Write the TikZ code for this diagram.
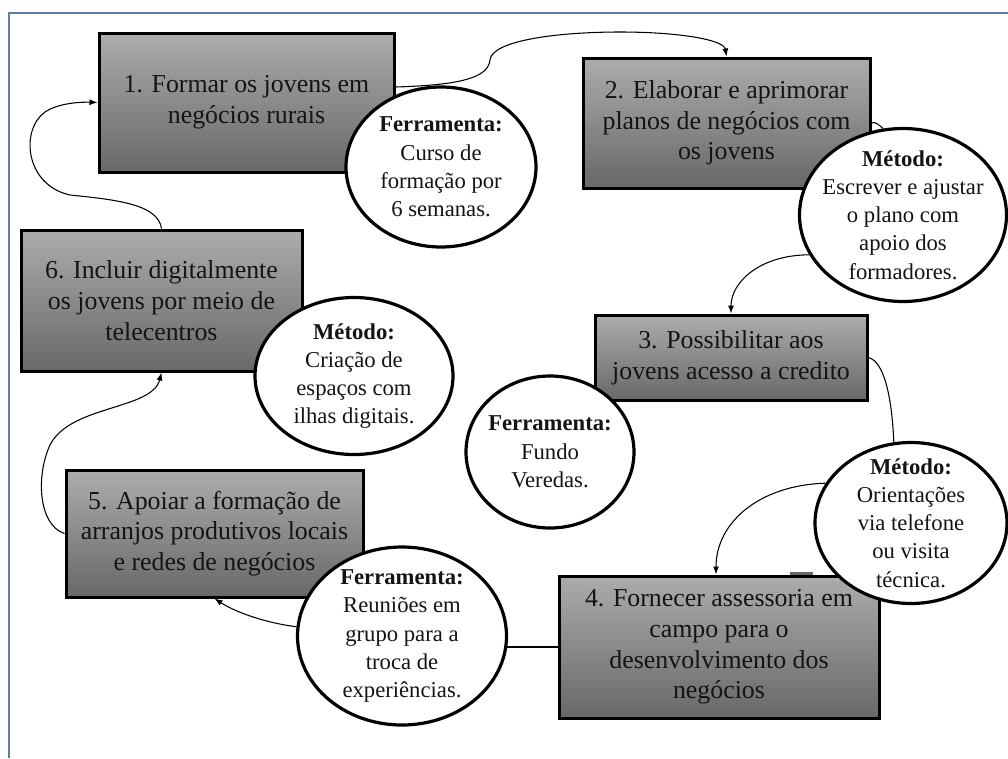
\documentclass[tikz,border=0pt]{standalone}
\usepackage{fontspec}
\setmainfont{Liberation Serif}
\usetikzlibrary{arrows.meta,shapes.geometric,calc,backgrounds}
\definecolor{frameblue}{RGB}{95,125,160}
\definecolor{boxtop}{RGB}{172,172,172}
\definecolor{boxbot}{RGB}{104,104,104}
\definecolor{txt}{RGB}{20,20,20}
\begin{document}
\begin{tikzpicture}[x=0.75pt,y=-0.75pt,
 stepbox/.style={draw=black, line width=2.25pt, top color=boxtop, bottom color=boxbot, text=txt, align=center, font=\fontsize{19.4pt}{23pt}\selectfont, inner sep=0pt},
 bubble/.style={ellipse, draw=black, line width=2.4pt, fill=white, inner sep=0pt},
 bubbletext/.style={align=center, text=txt, font=\fontsize{17pt}{21.2pt}\selectfont, inner sep=0pt},
 conn/.style={line width=0.8pt, draw=black},
 arr/.style={conn, -{Latex[length=6pt,width=4.5pt]}},
 frameline/.style={draw=frameblue, line width=1pt}]
\useasboundingbox (0,0) rectangle (1008,758);

% step boxes
\node[stepbox, minimum width=221.25pt, minimum height=104.25pt] (b1) at (246.5,102.5) {1. Formar os jovens em\\negócios rurais};
\node[stepbox, minimum width=215.25pt, minimum height=97.5pt] (b2) at (726.5,123) {2. Elaborar e aprimorar\\planos de negócios com\\os jovens};
\node[stepbox, minimum width=204pt, minimum height=63.75pt] (b3) at (731,357.5) {3. Possibilitar aos\\jovens acesso a credito};
\node[stepbox, minimum width=240pt, minimum height=106.5pt] (b4) at (719,647) {4. Fornecer assessoria em\\campo para o\\desenvolvimento dos\\negócios};
\node[stepbox, minimum width=222.75pt, minimum height=95.25pt] (b5) at (214.5,533.5) {5. Apoiar a formação de\\arranjos produtivos locais\\e redes de negócios};
\node[stepbox, minimum width=210.75pt, minimum height=105.75pt] (b6) at (161.5,300.5) {6. Incluir digitalmente\\os jovens por meio de\\telecentros};

% bubbles
\node[bubble, minimum width=142.5pt, minimum height=120pt] (c1) at (441,167) {};
\node[bubbletext] (t1) at (c1) {\textbf{Ferramenta:}\\Curso de\\formação por\\6 semanas.};
\node[bubble, minimum width=155.25pt, minimum height=129.75pt] (c2) at (903,215) {};
\node[bubbletext] (t2) at (c2) {\textbf{Método:}\\Escrever e ajustar\\o plano com\\apoio dos\\formadores.};
\node[bubble, minimum width=126pt, minimum height=114pt] (c3) at (550,452) {};
\node[bubbletext] (t3) at (c3) {\textbf{Ferramenta:}\\Fundo\\Veredas.};
\node[bubble, minimum width=144pt, minimum height=120.75pt] (c4) at (911,523) {};
\node[bubbletext] (t4) at (c4) {\textbf{Método:}\\Orientações\\via telefone\\ou visita\\técnica.};
\node[bubble, minimum width=156.75pt, minimum height=133.5pt] (c5) at (402,636) {};
\node[bubbletext] (t5) at (c5) {\textbf{Ferramenta:}\\Reuniões em\\grupo para a\\troca de\\experiências.};
\node[bubble, minimum width=148.5pt, minimum height=117.75pt] (c6) at (354,376) {};
\node[bubbletext] (t6) at (c6) {\textbf{Método:}\\Criação de\\espaços com\\ilhas digitais.};

\begin{pgfonlayer}{background}
\fill[white] (0,0) rectangle (1008,758);
\draw[frameline] (9,758) -- (9,13) -- (1008,13);
\fill[black!60] (790,572) rectangle (813,574.5);
% connectors
\draw[arr] ($(b1.east)+(0,-15.5)$) .. controls (460,85) and (488,78) .. (490,60)
   .. controls (492,40) and (560,32) .. (620,32) .. controls (680,32) and (724,40) .. (b2.north);
\draw[conn] (b2.east) .. controls (875,121) and (879,125) .. (c2.103);
\draw[arr] (c2.203) .. controls (760,255) and (731,282) .. (b3.north);
\draw[conn] (b3.east) .. controls (885,362) and (892,400) .. (c4.102);
\draw[arr] (c4.155) .. controls (760,485) and (716,522) .. ($(b4.north)+(-3,0)$);
\draw[conn] (b4.west) -- (b4.west -| c5.center);
\draw[arr] (c5.175) .. controls (260,622) and (232,610) .. (b5.south);
\draw[arr] (b5.west) .. controls (38,525) and (36,475) .. (50,445)
   .. controls (70,405) and (152,410) .. (b6.south);
\draw[arr] (b6.north) .. controls (158,205) and (120,200) .. (70,195)
   .. controls (25,185) and (20,130) .. (45,112) .. controls (60,102) and (85,102) .. (b1.west);
\end{pgfonlayer}
\end{tikzpicture}
\end{document}
